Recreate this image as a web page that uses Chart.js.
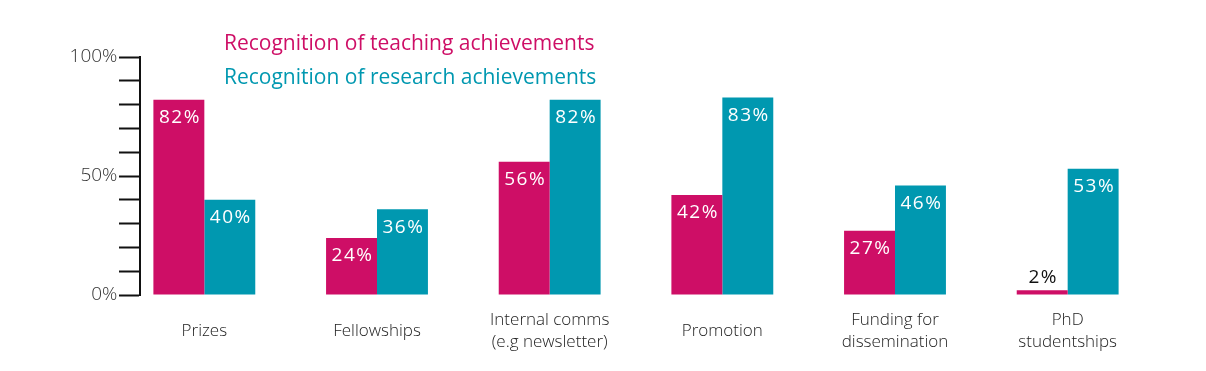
<!DOCTYPE html>
<html>
<head>
<meta charset="utf-8">
<script src="https://cdn.jsdelivr.net/npm/chart.js@4"></script>
<style>
  html, body { margin: 0; padding: 0; background: #fff; }
</style>
</head>
<body>
<canvas id="chart" width="1206" height="371"></canvas>
<script>
const categories = [["Prizes"], ["Fellowships"], ["Internal comms", "(e.g newsletter)"], ["Promotion"], ["Funding for", "dissemination"], ["PhD", "studentships"]];
const teachingValues = [82, 24, 56, 42, 27, 2];
const researchValues = [40, 36, 82, 83, 46, 53];
const seriesNames = ["Recognition of teaching achievements", "Recognition of research achievements"];
const yTickLabels = { 0: "0%", 50: "50%", 100: "100%" };

const FONT = '"Open Sans", "Noto Sans", sans-serif';
const Y_AXIS_AT = -0.37; // y axis sits a little left of the first group

// values written inside the bar top (or above it when the bar is too short)
const barLabels = {
  id: "barLabels",
  afterDatasetsDraw(chart) {
    const ctx = chart.ctx;
    ctx.save();
    ctx.font = "19px " + FONT;
    ctx.letterSpacing = "1.5px";
    ctx.textAlign = "center";
    chart.data.datasets.forEach((ds, i) => {
      chart.getDatasetMeta(i).data.forEach((bar, j) => {
        const text = ds.data[j] + "%";
        if (bar.base - bar.y > 30) {
          ctx.fillStyle = "#fff";
          ctx.textBaseline = "middle";
          ctx.fillText(text, bar.x + 1, bar.y + 18);
        } else {
          ctx.fillStyle = "#111";
          ctx.textBaseline = "bottom";
          ctx.fillText(text, bar.x + 1, bar.y - 3);
        }
      });
    });
    ctx.restore();
  }
};

// y tick labels, right aligned left of the tick marks
const yLabels = {
  id: "yLabels",
  afterDraw(chart) {
    const ctx = chart.ctx;
    const { x, y } = chart.scales;
    const right = x.getPixelForValue(Y_AXIS_AT) - 23;
    ctx.save();
    ctx.font = "300 19px " + FONT;
    ctx.fillStyle = "#333";
    ctx.textAlign = "right";
    ctx.textBaseline = "middle";
    Object.keys(yTickLabels).forEach((v) => {
      ctx.fillText(yTickLabels[v], right, y.getPixelForValue(Number(v)));
    });
    ctx.restore();
  }
};

// series names as coloured text, no swatches
const seriesTitles = {
  id: "seriesTitles",
  afterDraw(chart) {
    const ctx = chart.ctx;
    ctx.save();
    ctx.font = "500 21px " + FONT;
    ctx.textAlign = "left";
    ctx.textBaseline = "middle";
    chart.data.datasets.forEach((ds, i) => {
      ctx.fillStyle = ds.backgroundColor;
      ctx.fillText(ds.label, 224, 44 + i * 34);
    });
    ctx.restore();
  }
};

new Chart(document.getElementById("chart"), {
  type: "bar",
  data: {
    labels: categories,
    datasets: [
      { label: seriesNames[0], data: teachingValues, backgroundColor: "#CE0E66" },
      { label: seriesNames[1], data: researchValues, backgroundColor: "#0098B0" }
    ]
  },
  options: {
    responsive: false,
    animation: false,
    layout: { padding: { left: 118, right: 52, top: 57, bottom: 0 } },
    datasets: { bar: { barPercentage: 1, categoryPercentage: 0.59 } },
    plugins: { legend: { display: false }, tooltip: { enabled: false } },
    scales: {
      x: {
        grid: { display: false },
        border: { display: false },
        afterFit: (scale) => { scale.height = 76; },
        ticks: {
          font: { family: FONT, size: 17, weight: 300, lineHeight: 1.3 },
          color: "#222",
          padding: 17,
          maxRotation: 0,
          autoSkip: false,
          crossAlign: "center"
        }
      },
      y: {
        position: { x: Y_AXIS_AT },
        min: 0,
        max: 100,
        ticks: { stepSize: 10, autoSkip: false, display: false },
        grid: { drawOnChartArea: false, tickLength: 20, tickWidth: 2, tickColor: "#111" },
        border: { color: "#111", width: 2 }
      }
    }
  },
  plugins: [barLabels, yLabels, seriesTitles]
});
</script>
</body>
</html>
